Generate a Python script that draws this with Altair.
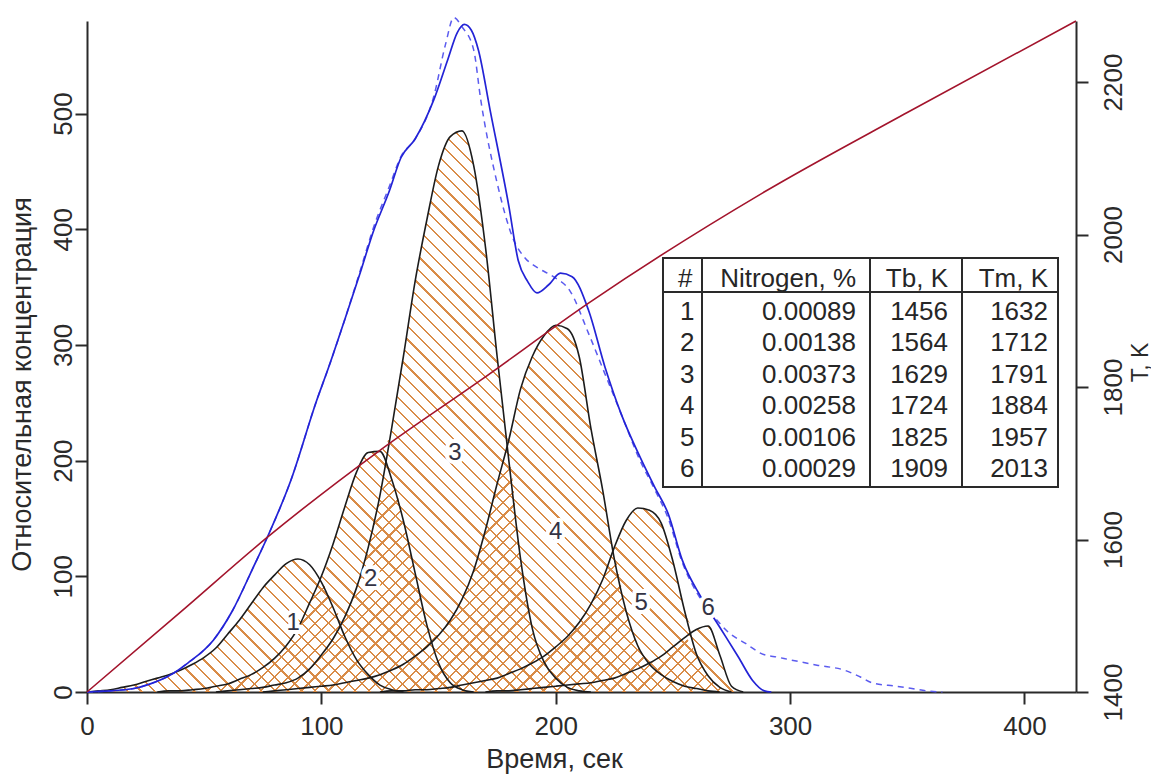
import altair as alt
import numpy as np
import pandas as pd

# ---------------------------------------------------------------- data ---
STEP = 5  # sampling step of the deconvolved components, s

# six desorption components: first sample time (s) and values every STEP s
peak1_start = 5
peak1 = [1, 2, 4, 6, 9, 12, 15, 19, 24, 30, 38, 50, 62, 76, 90, 101, 111,
         115, 110, 95, 73, 48, 28, 15, 6, 2, 0]
peak2_start = 35
peak2 = [1, 1, 2, 3, 5, 7, 11, 15, 21, 29, 40, 55, 77, 100, 128, 160, 190,
         207, 208, 184, 148, 103, 58, 25, 8, 2, 0]
peak3_start = 60
peak3 = [1, 2, 3, 4, 6, 8, 12, 20, 32, 46, 65, 90, 125, 170, 228, 290, 355,
         408, 455, 480, 485, 455, 385, 290, 200, 115, 55, 26, 12, 4, 1, 0]
peak4_start = 80
peak4 = [1, 2, 3, 4, 5, 6, 8, 10, 12, 15, 19, 24, 31, 39, 49, 62, 80, 105,
         140, 180, 218, 262, 290, 308, 317, 314, 290, 228, 175, 115, 70, 40,
         24, 15, 9, 5, 3, 1, 0]
peak5_start = 130
peak5 = [1, 1, 2, 2, 3, 4, 6, 8, 10, 12, 16, 20, 25, 31, 39, 48, 60, 76, 97,
         125, 148, 159, 157, 146, 113, 70, 33, 14, 4, 0]
peak6_start = 175
peak6 = [1, 1, 2, 3, 4, 5, 6, 7, 8, 10, 12, 16, 20, 25, 31, 39, 47, 54, 57,
         32, 5, 0]

# fitted sum of the components
fit_t = [0, 10, 20, 27, 35, 43, 54, 62, 71, 77, 87, 98, 103, 110, 117, 122,
         129, 134, 140, 148, 154, 158, 161, 164, 167, 172, 180, 184, 188, 192,
         197, 202, 207, 214, 221, 228, 236, 242, 248, 254, 262, 270, 278, 284,
         289, 292]
fit_y = [0, 1, 3, 7, 14, 25, 45, 70, 108, 134, 183, 252, 280, 322, 365, 397,
         433, 462, 478, 512, 547, 570, 577, 572, 555, 503, 420, 373, 355, 345,
         352, 362, 359, 330, 281, 240, 203, 178, 154, 114, 82, 56, 30, 10, 1, 0]

# measured signal
meas_t = [0, 10, 20, 27, 35, 43, 54, 62, 71, 77, 87, 98, 103, 110, 117, 122,
          129, 134, 140, 148, 153, 156.5, 160, 165, 168, 175, 182, 187, 192,
          199, 206, 214, 221, 228, 236, 242, 248, 254, 262, 268, 274, 281,
          288, 295, 302, 312, 323, 330, 335, 345, 352, 358, 365]
meas_y = [0, 1, 3, 7, 14, 25, 45, 70, 108, 134, 183, 252, 280, 322, 367, 400,
          437, 463, 478, 515, 560, 583, 575, 555, 512, 440, 391, 375, 367,
          359, 347, 310, 275, 240, 200, 176, 150, 112, 80, 64, 51, 42, 33, 30,
          27, 23, 19, 13, 8, 5, 3, 1, 0]

# sample temperature, K
temp_t = [0, 40, 77, 125, 168, 214, 288, 350, 422]
temp_k = [1400, 1505, 1603, 1717, 1809, 1910, 2054, 2160, 2280]

# peak numbers written inside the components
label_text = ["1", "2", "3", "4", "5", "6"]
label_t = [88, 121, 157, 200, 236.5, 265]
label_y = [60, 98, 207, 138, 77, 73]

# table of components
tbl_header = ["#", "Nitrogen, %", "Tb, K", "Tm, K"]
tbl_num = ["1", "2", "3", "4", "5", "6"]
tbl_nitrogen = ["0.00089", "0.00138", "0.00373", "0.00258", "0.00106", "0.00029"]
tbl_tb = ["1456", "1564", "1629", "1724", "1825", "1909"]
tbl_tm = ["1632", "1712", "1791", "1884", "1957", "2013"]

# ------------------------------------------------------------- layout ---
W, H = 989, 671
T_DOMAIN = [0, 422]
C_DOMAIN = [0, 580]
K_DOMAIN = [1400, 2280]
PX_T = W / (T_DOMAIN[1] - T_DOMAIN[0])
PX_C = H / (C_DOMAIN[1] - C_DOMAIN[0])

FONT = "Liberation Sans, Arial, Helvetica, sans-serif"
INK = "#2a2a2a"
HATCH = "#d98c48"
BLUE = "#2323d6"
BLUE_DASH = "#5b5bef"
RED = "#a3142c"

# --------------------------------------------------------- components ---
starts = [peak1_start, peak2_start, peak3_start, peak4_start, peak5_start,
          peak6_start]
peaks = [peak1, peak2, peak3, peak4, peak5, peak6]

grid = np.arange(0, 300 + STEP, STEP)
stack = np.zeros((len(peaks), len(grid)))
rows = []
for i, (s, vals) in enumerate(zip(starts, peaks)):
    i0 = s // STEP
    stack[i, i0:i0 + len(vals)] = vals
    ts = [s - STEP] + [s + STEP * k for k in range(len(vals))]
    ys = [0] + list(vals)
    rows += [{"peak": i + 1, "t": t, "c": c} for t, c in zip(ts, ys)]
peaks_df = pd.DataFrame(rows)

ordered = np.sort(stack, axis=0)
env_df = pd.DataFrame({"t": grid, "top": ordered[-1], "second": ordered[-2]})


def hatch(width_px, height_px, direction, spacing=9.5, weight=1.6):
    """Striped linear gradient giving 45-degree hatching inside a box."""
    r = height_px / width_px
    a = (1 + r) / (1 + r * r)
    if direction == "down":      # lines from upper left to lower right
        x1, y1, x2, y2 = 0, 1, a, 1 - a * r
    else:                        # lines from lower left to upper right
        x1, y1, x2, y2 = 0, 0, a, a * r
    n = (width_px + height_px) / (np.sqrt(2) * spacing)
    frac = weight / spacing
    clear = "rgba(255,255,255,0)"
    stops = []
    k = 0
    while k < n:
        o0 = min(k / n, 1.0)
        o1 = min((k + frac) / n, 1.0)
        stops += [(o0, clear), (o0, HATCH), (o1, HATCH), (o1, clear)]
        k += 1
    return alt.LinearGradient(
        gradient="linear",
        stops=[alt.GradientStop(offset=float(o), color=c) for o, c in stops],
        x1=float(x1), y1=float(y1), x2=float(x2), y2=float(y2),
    )


span_px = (grid[-1] - grid[0]) * PX_T
fill_top = hatch(span_px, ordered[-1].max() * PX_C, "down")
fill_second = hatch(span_px, ordered[-2].max() * PX_C, "up")

# -------------------------------------------------------------- scales ---
xs = alt.Scale(domain=T_DOMAIN, nice=False, zero=False)
ys = alt.Scale(domain=C_DOMAIN, nice=False)
ks = alt.Scale(domain=K_DOMAIN, nice=False, zero=False)

x_axis = alt.Axis(
    values=[0, 100, 200, 300, 400], title="Время, сек", grid=False,
    format="d",
    tickSize=12, tickWidth=2, tickColor=INK, domainColor=INK, domainWidth=2,
    labelFont=FONT, labelFontSize=26, labelColor=INK, labelPadding=9,
    labelFlush=False,
    titleFont=FONT, titleFontSize=27, titleFontWeight="normal",
    titleColor=INK, titleX=467, titleY=75, titleAlign="center",
    titleBaseline="alphabetic",
)
y_axis = alt.Axis(
    values=[0, 100, 200, 300, 400, 500], title="Относительная концентрация",
    grid=False, orient="left", format="d",
    tickSize=12, tickWidth=2, tickColor=INK, domainColor=INK, domainWidth=2,
    labelFont=FONT, labelFontSize=26, labelColor=INK, labelAngle=270,
    labelAlign="center", labelBaseline="alphabetic", labelPadding=4,
    labelFlush=False,
    titleFont=FONT, titleFontSize=27, titleFontWeight="normal",
    titleColor=INK, titleAngle=270, titleX=-57, titleY=363,
    titleAlign="center", titleBaseline="alphabetic",
)
k_axis = alt.Axis(
    values=[1400, 1600, 1800, 2000, 2200], title="T, K", grid=False,
    orient="right", format="d",
    tickSize=12, tickWidth=2, tickColor=INK, domainColor=INK, domainWidth=2,
    labelFont=FONT, labelFontSize=26, labelColor=INK, labelAngle=270,
    labelAlign="center", labelBaseline="alphabetic", labelPadding=33,
    labelFlush=False,
    titleFont=FONT, titleFontSize=23, titleFontWeight="normal",
    titleColor=INK, titleAngle=270, titleX=71, titleY=341,
    titleAlign="center", titleBaseline="alphabetic",
)

X = alt.X("t:Q", scale=xs, axis=x_axis)


def Yc(field):
    return alt.Y(field, scale=ys, axis=y_axis)


# -------------------------------------------------------------- layers ---
hatch_top = alt.Chart(env_df).mark_area(
    fill=fill_top, interpolate="monotone", strokeWidth=0
).encode(x=X, y=Yc("top:Q"))
hatch_second = alt.Chart(env_df).mark_area(
    fill=fill_second, interpolate="monotone", strokeWidth=0
).encode(x=X, y=Yc("second:Q"))
outlines = alt.Chart(peaks_df).mark_line(
    color="#1c1c1c", strokeWidth=1.6, interpolate="monotone"
).encode(x=X, y=Yc("c:Q"), detail="peak:N")
measured = alt.Chart(pd.DataFrame({"t": meas_t, "c": meas_y})).mark_line(
    color=BLUE_DASH, strokeWidth=1.5, strokeDash=[6, 5], interpolate="monotone"
).encode(x=X, y=Yc("c:Q"))
fitted = alt.Chart(pd.DataFrame({"t": fit_t, "c": fit_y})).mark_line(
    color=BLUE, strokeWidth=1.7, interpolate="monotone"
).encode(x=X, y=Yc("c:Q"))
labels_df = pd.DataFrame({"t": label_t, "c": label_y, "txt": label_text})
label_halo = alt.Chart(labels_df).mark_text(
    font=FONT, fontSize=24, color="white", stroke="white", strokeWidth=8,
    strokeJoin="round"
).encode(x=X, y=Yc("c:Q"), text="txt:N")
label_ink = alt.Chart(labels_df).mark_text(
    font=FONT, fontSize=24, color="#333344"
).encode(x=X, y=Yc("c:Q"), text="txt:N")

# table, positioned in pixels inside the plot area
one = pd.DataFrame({"k": [0]})
TL, TR, TT, TB = 663 - 87, 1058 - 87, 258 - 21, 487 - 21
HEAD_LINE = 292 - 21
COLS = [702 - 87, 870 - 87, 962 - 87]
FIRST_BASE = 319.5 - 21
ROW_H = 31.5
HEAD_BASE = 286.5 - 21

table_box = alt.Chart(one).mark_rect(
    fill="white", stroke=INK, strokeWidth=2
).encode(x=alt.value(TL), x2=alt.value(TR), y=alt.value(TT), y2=alt.value(TB))
table_rules = [
    alt.Chart(one).mark_rule(color=INK, strokeWidth=2).encode(
        x=alt.value(TL), x2=alt.value(TR), y=alt.value(HEAD_LINE))
] + [
    alt.Chart(one).mark_rule(color=INK, strokeWidth=2).encode(
        x=alt.value(cx), y=alt.value(TT), y2=alt.value(TB))
    for cx in COLS
]


def column(lines, px, align):
    return alt.Chart(one).mark_text(
        text=lines, font=FONT, fontSize=26, color="#262626", align=align,
        baseline="alphabetic", lineHeight=ROW_H
    ).encode(x=alt.value(px), y=alt.value(FIRST_BASE))


def head(txt, px, align):
    return alt.Chart(one).mark_text(
        text=txt, font=FONT, fontSize=26, color="#262626", align=align,
        baseline="alphabetic"
    ).encode(x=alt.value(px), y=alt.value(HEAD_BASE))


table_text = [
    head(tbl_header[0], 678 - 87, "left"),
    head(tbl_header[1], 856 - 87, "right"),
    head(tbl_header[2], 948 - 87, "right"),
    head(tbl_header[3], 1048 - 87, "right"),
    column(tbl_num, 680 - 87, "left"),
    column(tbl_nitrogen, 856 - 87, "right"),
    column(tbl_tb, 948 - 87, "right"),
    column(tbl_tm, 1048 - 87, "right"),
]

left = alt.layer(hatch_top, hatch_second, outlines, measured, fitted,
                 label_halo, label_ink)

temperature = alt.Chart(pd.DataFrame({"t": temp_t, "k": temp_k})).mark_line(
    color=RED, strokeWidth=1.6, interpolate="monotone"
).encode(x=X, y=alt.Y("k:Q", scale=ks, axis=k_axis))

table = alt.layer(table_box, *table_rules, *table_text)

chart = alt.layer(left, temperature, table).resolve_scale(
    y="independent"
).properties(
    width=W, height=H,
    padding={"left": 87, "top": 21, "right": 75, "bottom": 82},
    autosize=alt.AutoSizeParams(type="none"),
    background="white",
).configure_view(stroke="transparent")

chart.save("out.html", embed_options={"renderer": "svg", "actions": False})
